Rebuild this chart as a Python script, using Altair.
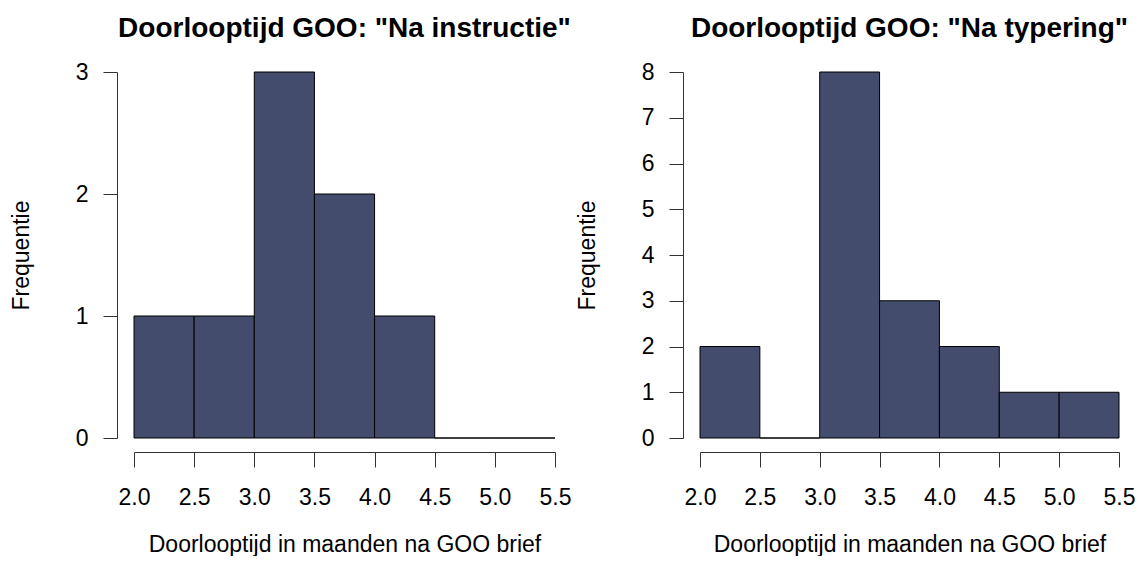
import altair as alt
import pandas as pd

bin_start = [2.0, 2.5, 3.0, 3.5, 4.0, 4.5, 5.0]
bin_end = [2.5, 3.0, 3.5, 4.0, 4.5, 5.0, 5.5]
counts_instructie = [1, 1, 3, 2, 1, 0, 0]
counts_typering = [2, 0, 8, 3, 2, 1, 1]
x_ticks = [2.0, 2.5, 3.0, 3.5, 4.0, 4.5, 5.0, 5.5]
y_max_instructie = 3
y_max_typering = 8
titles = ['Doorlooptijd GOO: "Na instructie"', 'Doorlooptijd GOO: "Na typering"']
x_title = "Doorlooptijd in maanden na GOO brief"
y_title = "Frequentie"

FONT = "Liberation Sans"


def panel(counts, title, ymax, w):
    df = pd.DataFrame({"start": bin_start, "end": bin_end, "count": counts})
    return (
        alt.Chart(df, title=alt.TitleParams(title))
        .mark_rect(fill="#434C6C", stroke="black", strokeWidth=1)
        .encode(
            x=alt.X(
                "start:Q",
                scale=alt.Scale(domain=[2.0, 5.5], nice=False, zero=False),
                axis=alt.Axis(values=x_ticks, format=".1f", title=x_title),
            ),
            x2="end:Q",
            y=alt.Y(
                "count:Q",
                scale=alt.Scale(domain=[0, ymax], nice=False, zero=True),
                axis=alt.Axis(values=list(range(ymax + 1)), format="d", title=y_title),
            ),
            y2=alt.datum(0),
        )
        .properties(width=w, height=366)
    )


left = panel(counts_instructie, titles[0], y_max_instructie, 421)
right = panel(counts_typering, titles[1], y_max_typering, 419)

chart = (
    alt.hconcat(left, right, spacing=145, bounds="flush")
    .properties(padding={"left": 2, "top": 7, "right": 0, "bottom": 0})
    .configure_view(stroke=None)
    .configure_axis(
        grid=False,
        domainColor="#333333",
        tickColor="#333333",
        domainWidth=1,
        tickWidth=1,
        labelFont=FONT,
        labelFontSize=23,
        labelColor="black",
        labelFlush=False,
        labelOverlap=False,
        titleFont=FONT,
        titleFontSize=23,
        titleFontWeight="normal",
        titleColor="black",
    )
    .configure_axisX(offset=14, tickSize=15, labelPadding=19, titlePadding=24)
    .configure_axisY(offset=17, tickSize=14, labelPadding=15, titlePadding=42)
    .configure_title(
        font=FONT,
        fontSize=28,
        fontWeight="bold",
        color="black",
        anchor="middle",
        frame="group",
        offset=18,
    )
)

chart.save("out.html", embed_options={"renderer": "svg", "actions": False})
